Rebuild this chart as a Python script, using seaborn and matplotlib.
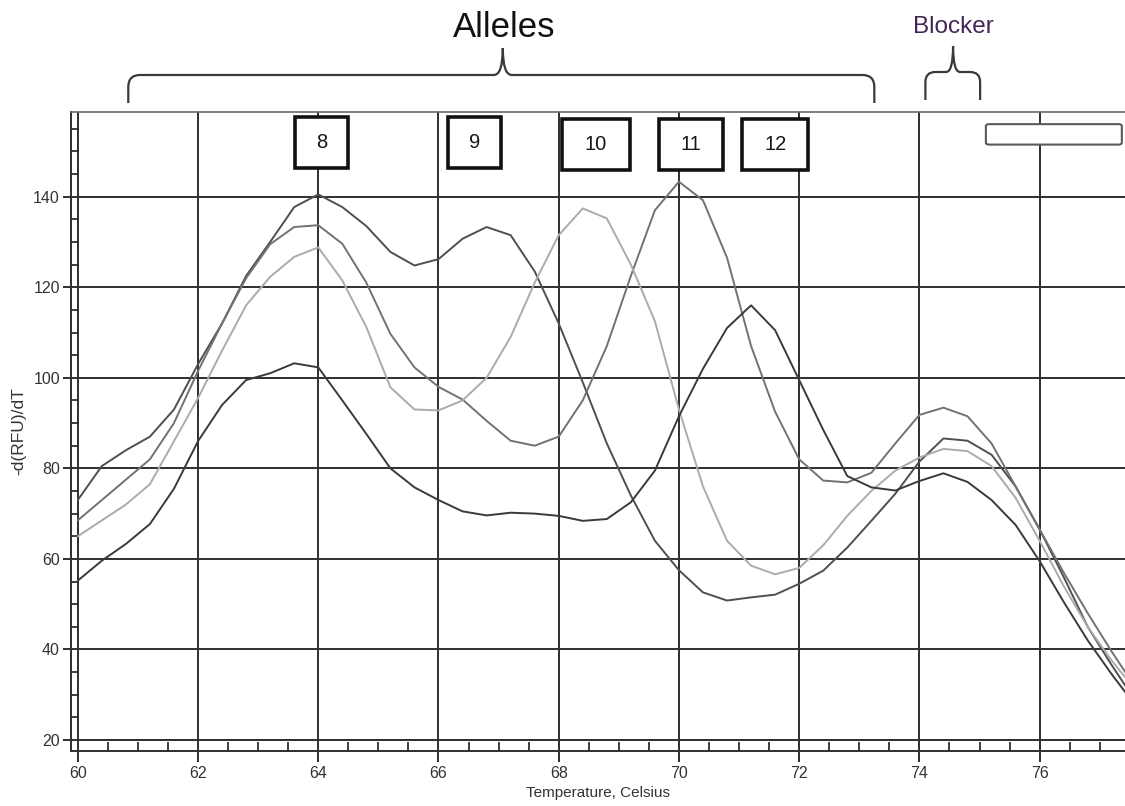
import matplotlib
matplotlib.use("Agg")
import matplotlib.pyplot as plt
import matplotlib.transforms as mtransforms
from matplotlib.path import Path
from matplotlib.patches import PathPatch, Rectangle, FancyBboxPatch
from matplotlib.ticker import MultipleLocator
import numpy as np
import pandas as pd
import seaborn as sns

# ---------------------------------------------------------------- data
temperature = [60.0, 60.4, 60.8, 61.2, 61.6, 62.0, 62.4, 62.8, 63.2, 63.6,
               64.0, 64.4, 64.8, 65.2, 65.6, 66.0, 66.4, 66.8, 67.2, 67.6,
               68.0, 68.4, 68.8, 69.2, 69.6, 70.0, 70.4, 70.8, 71.2, 71.6,
               72.0, 72.4, 72.8, 73.2, 73.6, 74.0, 74.4, 74.8, 75.2, 75.6,
               76.0, 76.4, 76.8, 77.2, 77.6]

melt_8_9 = [73.0, 80.5, 84.0, 87.0, 93.0, 103.0, 112.0, 122.5, 130.0, 137.7,
            140.5, 137.7, 133.5, 127.8, 124.8, 126.2, 130.7, 133.3, 131.5, 123.5,
            112.0, 99.0, 85.5, 74.0, 64.0, 57.5, 52.6, 50.8, 51.5, 52.1,
            54.5, 57.4, 62.5, 68.4, 74.4, 81.5, 86.6, 86.1, 83.0, 76.0,
            66.5, 56.0, 45.0, 36.5, 28.5]

melt_8_11 = [68.5, 73.0, 77.5, 82.0, 90.0, 101.5, 112.0, 122.0, 129.5, 133.3,
             133.7, 129.6, 121.0, 109.7, 102.3, 98.0, 95.2, 90.5, 86.1, 85.0,
             87.0, 95.0, 107.0, 122.5, 137.0, 143.3, 139.2, 126.5, 107.0, 92.5,
             82.0, 77.3, 76.9, 79.0, 85.5, 91.8, 93.4, 91.5, 85.5, 76.0,
             66.5, 57.0, 48.0, 39.5, 31.5]

melt_8_10 = [65.0, 68.5, 72.0, 76.5, 86.0, 95.5, 106.0, 116.0, 122.3, 126.7,
             128.8, 121.5, 111.2, 97.9, 93.0, 92.8, 95.0, 100.0, 109.0, 121.0,
             131.5, 137.4, 135.2, 125.0, 112.5, 93.0, 76.0, 64.0, 58.5, 56.6,
             58.0, 63.0, 69.5, 75.0, 79.5, 82.4, 84.3, 83.8, 80.5, 73.5,
             64.0, 54.0, 45.0, 37.5, 31.0]

melt_8_12 = [55.2, 59.6, 63.3, 67.7, 75.5, 86.0, 94.0, 99.5, 101.0, 103.2,
             102.3, 95.0, 87.6, 80.0, 75.8, 73.0, 70.5, 69.6, 70.2, 70.0,
             69.5, 68.4, 68.8, 72.5, 79.5, 91.5, 102.0, 111.0, 116.0, 110.5,
             99.5, 88.5, 78.3, 75.8, 75.1, 77.2, 78.9, 77.0, 73.0, 67.5,
             59.5, 50.5, 42.0, 34.5, 27.5]

genotypes = ["8/9", "8/11", "8/10", "8/12"]
series = [melt_8_9, melt_8_11, melt_8_10, melt_8_12]
line_colors = ["#4f4f4f", "#727272", "#ababab", "#3a3a3a"]

allele_labels = ["8", "9", "10", "11", "12"]
x_ticks = [60, 62, 64, 66, 68, 70, 72, 74, 76]
y_ticks = [20, 40, 60, 80, 100, 120, 140]

df = pd.DataFrame({
    "Temperature": np.tile(temperature, len(genotypes)),
    "dRFU": np.concatenate(series),
    "Genotype": np.repeat(genotypes, len(temperature)),
})

# ---------------------------------------------------------------- figure
W, H = 1125, 806
sns.set_theme(style="white")
plt.rcParams["font.family"] = ["Liberation Sans", "DejaVu Sans"]

fig = plt.figure(figsize=(W / 100, H / 100), dpi=100)
fig.patch.set_facecolor("white")
ax = fig.add_axes([71 / W, 1 - 751 / H, 1054 / W, 639 / H])
ax.set_facecolor("white")

sns.lineplot(data=df, x="Temperature", y="dRFU", hue="Genotype",
             hue_order=genotypes, palette=dict(zip(genotypes, line_colors)),
             estimator=None, sort=False, linewidth=1.4, legend=False, ax=ax,
             zorder=3)

ax.set_xlim(59.887, 77.42)
ax.set_ylim(17.57, 158.7)
ax.set_xticks(x_ticks)
ax.set_yticks(y_ticks)
ax.xaxis.set_minor_locator(MultipleLocator(0.5))
ax.yaxis.set_minor_locator(MultipleLocator(5))

grid_color = "#2e2e2e"
ax.grid(True, which="major", color=grid_color, linewidth=1.4, zorder=1)
ax.set_axisbelow(True)

for side in ("left", "bottom"):
    ax.spines[side].set_color(grid_color)
    ax.spines[side].set_linewidth(1.4)
ax.spines["top"].set_color("#6a6a6a")
ax.spines["top"].set_linewidth(1.2)
ax.spines["right"].set_visible(False)

ax.tick_params(axis="x", which="major", direction="out", length=8, width=1.4,
               color=grid_color, pad=2.5, labelsize=11.5, labelcolor="#333333",
               bottom=True, top=False)
ax.tick_params(axis="x", which="minor", direction="in", length=6.5, width=1.3,
               color=grid_color, bottom=True, top=False)
ax.tick_params(axis="y", which="major", direction="out", length=6, width=1.4,
               color=grid_color, pad=2, labelsize=11.5, labelcolor="#333333",
               left=True, right=False)
ax.tick_params(axis="y", which="minor", direction="in", length=5.5, width=1.3,
               color=grid_color, left=True, right=False)

ax.set_xlabel("Temperature, Celsius", fontsize=11, color="#333333", labelpad=4)
ax.set_ylabel("-d(RFU)/dT", fontsize=12.5, color="#333333", labelpad=5)

# ---------------------------------------------------------------- allele boxes
xdata_yaxes = mtransforms.blended_transform_factory(ax.transData, ax.transAxes)
box_centers = [64.05, 66.6, 68.62, 70.2, 71.6]
box_widths = [0.88, 0.88, 1.12, 1.08, 1.09]
box_bottoms = [0.912, 0.912, 0.909, 0.909, 0.909]
box_height = 0.080
for label, xc, bw, yb in zip(allele_labels, box_centers, box_widths, box_bottoms):
    ax.add_patch(Rectangle((xc - bw / 2, yb), bw, box_height,
                           transform=xdata_yaxes, facecolor="white",
                           edgecolor="#111111", linewidth=2.6, zorder=5,
                           clip_on=False))
    ax.text(xc, yb + box_height / 2, label, transform=xdata_yaxes,
            ha="center", va="center", fontsize=14.5, color="#151515",
            zorder=6)

# empty legend frame in the upper right corner
ax.add_patch(FancyBboxPatch((0.868, 0.949), 0.129, 0.032,
                            boxstyle="round,pad=0,rounding_size=0.003",
                            transform=ax.transAxes, facecolor="white",
                            edgecolor="#5a5a5a", linewidth=1.5, zorder=5,
                            clip_on=False))

# ---------------------------------------------------------------- braces
def add_brace(x_left, x_right, x_mid, arm_px, bar_px, tip_px, r, s):
    """Curly brace above the axes; x in data units, heights in px above the top."""
    to_disp = ax.transData.transform
    top = ax.transAxes.transform((0, 1))[1]
    xl = to_disp((x_left, 0))[0]
    xr = to_disp((x_right, 0))[0]
    xm = to_disp((x_mid, 0))[0]
    ya, yb, yt = top + arm_px, top + bar_px, top + tip_px
    verts = [(xl, ya), (xl, yb - r), (xl, yb), (xl + r, yb),
             (xm - s, yb), (xm, yb), (xm, yt), (xm, yb), (xm + s, yb),
             (xr - r, yb), (xr, yb), (xr, yb - r), (xr, ya)]
    codes = [Path.MOVETO, Path.LINETO, Path.CURVE3, Path.CURVE3,
             Path.LINETO, Path.CURVE3, Path.CURVE3, Path.CURVE3, Path.CURVE3,
             Path.LINETO, Path.CURVE3, Path.CURVE3, Path.LINETO]
    fig.add_artist(PathPatch(Path(verts, codes), facecolor="none",
                             edgecolor="#3a3a3a", linewidth=1.6,
                             transform=mtransforms.IdentityTransform()))


add_brace(60.84, 73.25, 67.07, 9, 37, 64, 12, 9)
add_brace(74.10, 75.01, 74.56, 12, 40, 66, 10, 7)

ax.text(67.1, 1.133, "Alleles", transform=xdata_yaxes, ha="center",
        va="center", fontsize=25, color="#111111")
ax.text(74.57, 1.133, "Blocker", transform=xdata_yaxes, ha="center",
        va="center", fontsize=17.5, color="#432656")

fig.savefig("out.png", dpi=100, facecolor="white")
